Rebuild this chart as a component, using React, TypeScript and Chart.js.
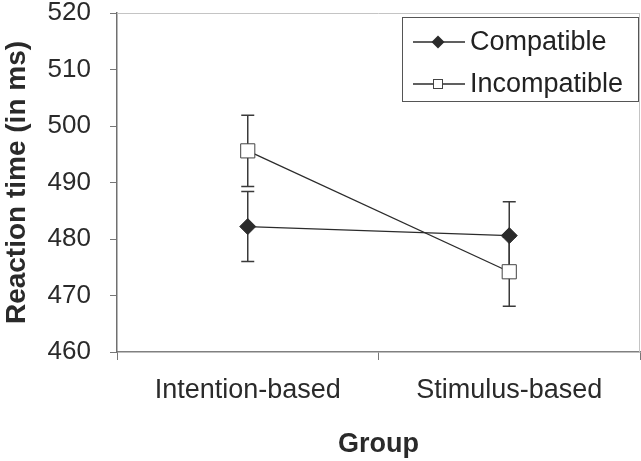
import React, { useEffect, useRef } from "react";
import { Chart, registerables } from "chart.js";

Chart.register(...registerables);

const categories = ["Intention-based", "Stimulus-based"];
const seriesNames = ["Compatible", "Incompatible"];
const compatibleMeans = [482.2, 480.6];
const compatibleErrors = [6.2, 6.0];
const incompatibleMeans = [495.6, 474.2];
const incompatibleErrors = [6.3, 6.1];
const yMin = 460;
const yMax = 520;
const yStep = 10;

const FONT = "'Liberation Sans', Arial, sans-serif";
const DARK = "#2b2b2b";

const errorBarPlugin = {
  id: "errorBars",
  beforeDatasetsDraw(chart: any) {
    const ctx = chart.ctx;
    const xs = chart.scales.x;
    const ys = chart.scales.y;
    const sets = [
      { m: compatibleMeans, e: compatibleErrors },
      { m: incompatibleMeans, e: incompatibleErrors },
    ];
    ctx.save();
    ctx.strokeStyle = "#3a3a3a";
    ctx.lineWidth = 1.5;
    const cap = 6.5;
    sets.forEach((s) => {
      s.m.forEach((v, i) => {
        const x = xs.getPixelForValue(i);
        const y1 = ys.getPixelForValue(v - s.e[i]);
        const y2 = ys.getPixelForValue(v + s.e[i]);
        ctx.beginPath();
        ctx.moveTo(x, y1);
        ctx.lineTo(x, y2);
        ctx.moveTo(x - cap, y1);
        ctx.lineTo(x + cap, y1);
        ctx.moveTo(x - cap, y2);
        ctx.lineTo(x + cap, y2);
        ctx.stroke();
      });
    });
    ctx.restore();
  },
};

const framePlugin = {
  id: "frame",
  beforeDatasetsDraw(chart: any) {
    const { ctx, chartArea } = chart;
    ctx.save();
    ctx.strokeStyle = "#c4c4c4";
    ctx.lineWidth = 1;
    ctx.beginPath();
    ctx.moveTo(chartArea.left, chartArea.top + 0.5);
    ctx.lineTo(chartArea.right, chartArea.top + 0.5);
    ctx.moveTo(chartArea.right - 0.5, chartArea.top);
    ctx.lineTo(chartArea.right - 0.5, chartArea.bottom);
    ctx.stroke();
    ctx.restore();
  },
};

const legendPlugin = {
  id: "customLegend",
  afterDraw(chart: any) {
    const ctx = chart.ctx;
    const area = chart.chartArea;
    const boxRight = area.right - 1;
    const boxLeft = boxRight - 237;
    const boxTop = area.top + 4;
    const boxH = 85;
    ctx.save();
    ctx.fillStyle = "#ffffff";
    ctx.fillRect(boxLeft, boxTop, boxRight - boxLeft, boxH);
    ctx.strokeStyle = "#555555";
    ctx.lineWidth = 1;
    ctx.strokeRect(boxLeft + 0.5, boxTop + 0.5, boxRight - boxLeft - 1, boxH - 1);
    const rows = [boxTop + 25, boxTop + 67];
    ctx.font = `27px ${FONT}`;
    ctx.textBaseline = "middle";
    ctx.textAlign = "left";
    seriesNames.forEach((name, i) => {
      const y = rows[i];
      const lx1 = boxLeft + 11;
      const lx2 = boxLeft + 63;
      const mx = boxLeft + 36;
      ctx.strokeStyle = DARK;
      ctx.lineWidth = 1.3;
      ctx.beginPath();
      ctx.moveTo(lx1, y);
      ctx.lineTo(lx2, y);
      ctx.stroke();
      if (i === 0) {
        ctx.fillStyle = DARK;
        ctx.beginPath();
        ctx.moveTo(mx, y - 6.5);
        ctx.lineTo(mx + 6.5, y);
        ctx.lineTo(mx, y + 6.5);
        ctx.lineTo(mx - 6.5, y);
        ctx.closePath();
        ctx.fill();
      } else {
        ctx.fillStyle = "#ffffff";
        ctx.fillRect(mx - 5, y - 5, 10, 10);
        ctx.strokeStyle = "#444";
        ctx.lineWidth = 1;
        ctx.strokeRect(mx - 4.5, y - 4.5, 9, 9);
      }
      ctx.fillStyle = "#222";
      ctx.fillText(name, boxLeft + 68, y + 1);
    });
    ctx.restore();
  },
};

function zeroPadding(scale: any) {
  scale.paddingTop = 0;
  scale.paddingBottom = 0;
  scale.paddingLeft = 0;
  scale.paddingRight = 0;
}

export default function App() {
  const ref = useRef<HTMLCanvasElement>(null);
  useEffect(() => {
    document.body.style.margin = "0";
    const chart = new Chart(ref.current as HTMLCanvasElement, {
      type: "line",
      data: {
        labels: categories,
        datasets: [
          {
            label: seriesNames[0],
            data: compatibleMeans,
            borderColor: DARK,
            borderWidth: 1.3,
            pointStyle: "rectRot",
            pointRadius: 8,
            pointBackgroundColor: DARK,
            pointBorderColor: DARK,
            pointBorderWidth: 1,
          },
          {
            label: seriesNames[1],
            data: incompatibleMeans,
            borderColor: DARK,
            borderWidth: 1.3,
            pointStyle: "rect",
            pointRadius: 10,
            pointBackgroundColor: "#ffffff",
            pointBorderColor: "#444",
            pointBorderWidth: 1,
          },
        ],
      },
      options: {
        animation: false,
        responsive: false,
        devicePixelRatio: 1,
        layout: { autoPadding: false, padding: { top: 13, right: 1, left: 0, bottom: 0 } },
        plugins: {
          legend: { display: false },
          tooltip: { enabled: false },
        },
        scales: {
          x: {
            offset: true,
            afterFit(scale: any) {
              scale.height = 109;
              zeroPadding(scale);
            },
            grid: {
              offset: true,
              drawOnChartArea: false,
              drawTicks: true,
              tickLength: 8,
              color: "#777",
            },
            border: { color: "#808080", width: 1.5 },
            ticks: {
              color: "#2a2a2a",
              font: { family: FONT, size: 27 },
              padding: 14,
              maxRotation: 0,
            },
            title: {
              display: true,
              text: "Group",
              color: "#2a2a2a",
              font: { family: FONT, size: 27, weight: "bold" },
              padding: { top: 0, bottom: 0 },
            },
          },
          y: {
            min: yMin,
            max: yMax,
            afterFit(scale: any) {
              scale.width = 117;
              zeroPadding(scale);
            },
            grid: {
              drawOnChartArea: false,
              drawTicks: true,
              tickLength: 7,
              color: "#777",
            },
            border: { color: "#707070", width: 1.5 },
            ticks: {
              stepSize: yStep,
              color: "#2a2a2a",
              font: { family: FONT, size: 26 },
              padding: 19,
            },
            title: {
              display: true,
              text: "Reaction time (in ms)",
              color: "#2a2a2a",
              font: { family: FONT, size: 28, weight: "bold" },
              padding: { top: 0, bottom: 0 },
            },
          },
        },
      },
      plugins: [framePlugin, errorBarPlugin, legendPlugin],
    });
    return () => chart.destroy();
  }, []);
  return (
    <div style={{ width: 641, height: 461, background: "#fff" }}>
      <canvas ref={ref} width={641} height={461} style={{ display: "block" }} />
    </div>
  );
}
